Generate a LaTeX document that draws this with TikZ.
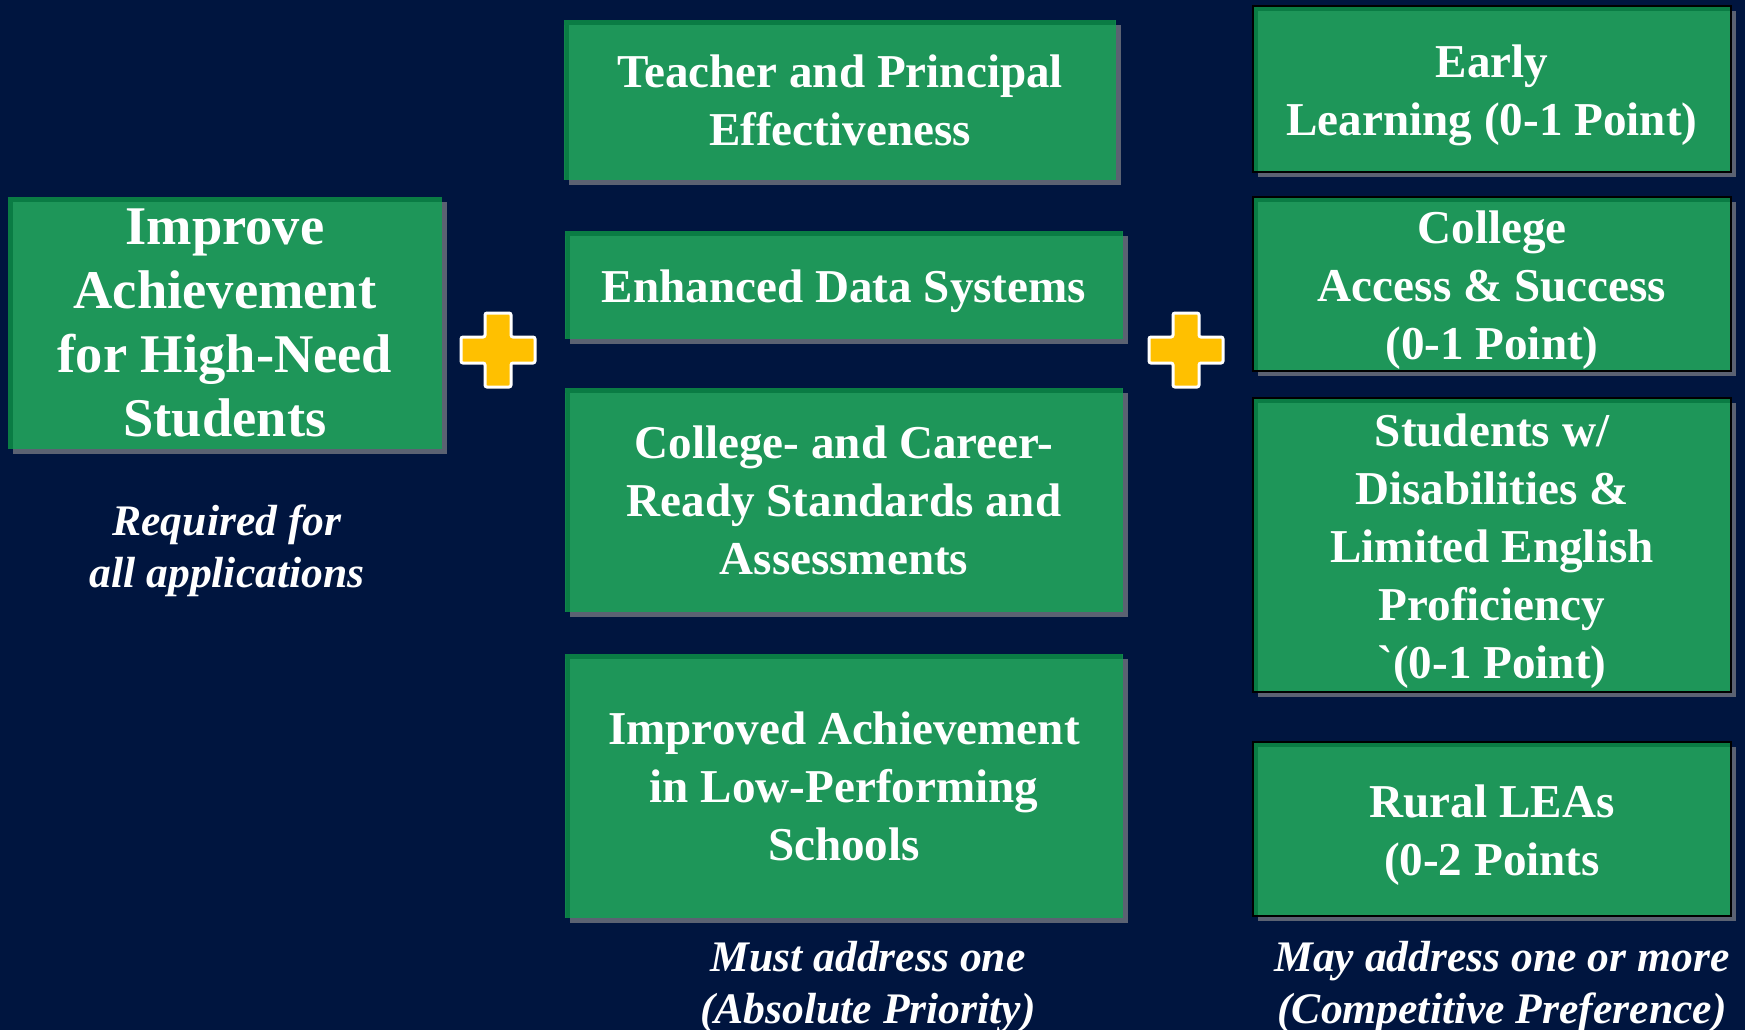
\documentclass[tikz,border=0pt]{standalone}
\usepackage{fontspec}
\setmainfont{Liberation Serif}
\usetikzlibrary{shadows}
\definecolor{bg}{HTML}{00153F}
\definecolor{boxgreen}{HTML}{1E9659}
\definecolor{dkgreen}{HTML}{0A7C44}
\definecolor{shadowgray}{HTML}{5B6272}
\definecolor{plusyellow}{HTML}{FFC000}
\tikzset{
  gbox/.style={fill=boxgreen, inner sep=0pt, align=center, text=white,
    font=\bfseries\fontsize{13.4}{16.5}\selectfont,
    drop shadow={shadow xshift=0.05cm, shadow yshift=-0.05cm, fill=shadowgray, opacity=1},
    path picture={
      \fill[dkgreen] (path picture bounding box.south west) rectangle ([xshift=0.05cm]path picture bounding box.north west);
      \fill[dkgreen] (path picture bounding box.north west) rectangle ([yshift=-0.05cm]path picture bounding box.north east);
    }},
  rbox/.style={gbox, draw=black, line width=0.02cm, minimum width=4.78cm},
  mbox/.style={gbox, minimum width=5.57cm},
  boxtext/.style={inner sep=0pt, align=center, text=white, yshift=-0.06cm,
    font=\bfseries\fontsize{13.4}{16.5}\selectfont},
  intext/.style={label={[boxtext]center:{#1}}},
  caption/.style={inner sep=0pt, align=center, text=white,
    font=\bfseries\itshape\fontsize{12.4}{14.8}\selectfont},
  pics/plusmark/.style={code={
    \draw[fill=plusyellow, draw=white, line width=0.03cm, rounded corners=0.02cm]
      (-13,-37) -- (13,-37) -- (13,-13) -- (37,-13) -- (37,13) -- (13,13) -- (13,37)
      -- (-13,37) -- (-13,13) -- (-37,13) -- (-37,-13) -- (-13,-13) -- cycle;}}
}
\begin{document}
\begin{tikzpicture}[x=0.01cm,y=-0.01cm]
\useasboundingbox (0,0) rectangle (1745,1030);
\fill[bg] (0,0) rectangle (1745,1030);

% left
\node[gbox, minimum width=4.34cm, minimum height=2.52cm,
  font=\bfseries\fontsize{15.5}{18.2}\selectfont] (achieve) at (225,323)
  {Improve\\Achievement\\for High-Need\\Students};
\node[caption] (req) at (227,551) {Required for\\all applications};

\pic at (498,350) {plusmark};

% middle
\node[mbox, minimum width=5.51cm, minimum height=1.60cm] (teacher) at (840,100)
  {Teacher and Principal\\Effectiveness};
\node[mbox, minimum height=1.08cm, intext={Enhanced Data Systems}] (data) at (844,285) {};
\node[mbox, minimum height=2.24cm] (standards) at (844,500)
  {College- and Career-\\Ready Standards and\\Assessments};
\node[mbox, minimum height=2.63cm] (lowperf) at (844,786)
  {Improved Achievement\\in Low-Performing\\Schools};
\node[caption] (must) at (868,987) {Must address one\\(Absolute Priority)};

\pic at (1186,350) {plusmark};

% right
\node[rbox, minimum height=1.66cm, intext={Early\\Learning (0-1 Point)}] (early) at (1492,89) {};
\node[rbox, minimum height=1.74cm, intext={College\\Access \& Success\\(0-1 Point)}] (college) at (1492,284) {};
\node[rbox, minimum height=2.94cm,
  intext={Students w/\\Disabilities \&\\Limited English\\Proficiency\\\textasciigrave(0-1 Point)}] (swd) at (1492,545) {};
\node[rbox, minimum height=1.74cm, intext={Rural LEAs\\(0-2 Points}] (rural) at (1492,829) {};
\node[caption] (may) at (1502,987) {May address one or more\\(Competitive Preference)};
\end{tikzpicture}
\end{document}
